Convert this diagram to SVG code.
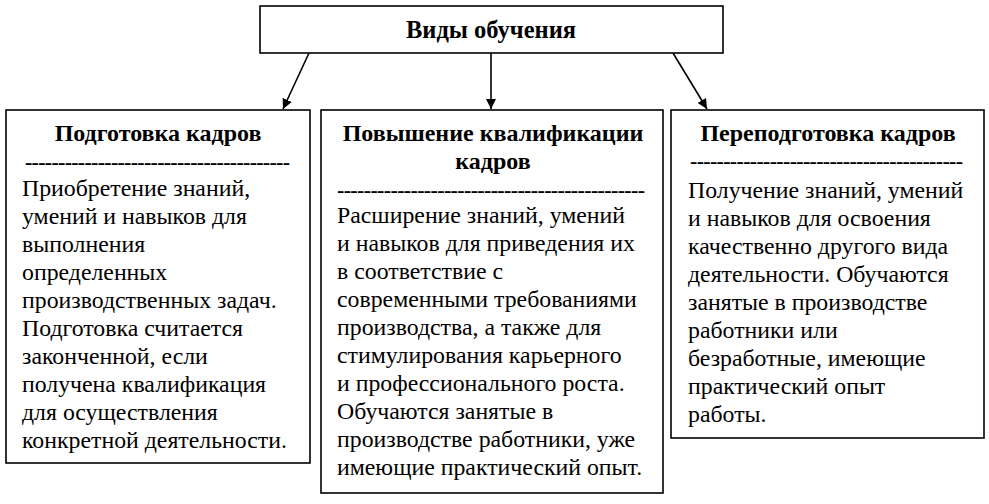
<svg xmlns="http://www.w3.org/2000/svg" width="989" height="504" viewBox="0 0 989 504">
<style>
.box{fill:#fff;stroke:#000;stroke-width:1.6}
text{font-family:'Liberation Serif','Times New Roman',serif;fill:#000}
.ttl{font-weight:bold;font-size:24.5px;text-anchor:middle}
.hd{font-weight:bold;font-size:24px;text-anchor:middle}
.dash{font-weight:bold;font-size:22px}
.bd{font-size:23.8px}
.con{stroke:#000;stroke-width:1.6;fill:none}
</style>
<defs>
<marker id="ah" viewBox="0 0 10 10" refX="10" refY="5" markerWidth="10" markerHeight="10" markerUnits="userSpaceOnUse" orient="auto">
<path d="M0,0 L10,5 L0,10 z" fill="#000"/>
</marker>
</defs>
<rect width="989" height="504" fill="#fff"/>
<g id="connectors">
<line class="con" x1="309" y1="53" x2="283" y2="109" marker-end="url(#ah)"/>
<line class="con" x1="491" y1="53" x2="491" y2="109" marker-end="url(#ah)"/>
<line class="con" x1="673" y1="53" x2="707" y2="109" marker-end="url(#ah)"/>
</g>
<g id="root">
<rect class="box" x="260" y="6" width="463" height="47"/>
<text class="ttl" x="491" y="38">Виды обучения</text>
</g>
<g id="podgotovka">
<rect class="box" x="6" y="110" width="304" height="353"/>
<text class="hd" x="158" y="141">Подготовка кадров</text>
<text class="dash" x="25" y="169" textLength="265" lengthAdjust="spacing">----------------------------------------</text>
<text class="bd">
<tspan x="22" y="196">Приобретение знаний,</tspan>
<tspan x="22" y="224">умений и навыков для</tspan>
<tspan x="22" y="252">выполнения</tspan>
<tspan x="22" y="280">определенных</tspan>
<tspan x="22" y="308">производственных задач.</tspan>
<tspan x="22" y="336">Подготовка считается</tspan>
<tspan x="22" y="364">законченной, если</tspan>
<tspan x="22" y="392">получена квалификация</tspan>
<tspan x="22" y="420">для осуществления</tspan>
<tspan x="22" y="448">конкретной деятельности.</tspan>
</text>
</g>
<g id="povyshenie">
<rect class="box" x="321" y="110" width="342" height="383"/>
<text class="hd" x="493" y="141">Повышение квалификации</text>
<text class="hd" x="493" y="169">кадров</text>
<text class="dash" x="337" y="197" textLength="308" lengthAdjust="spacing">----------------------------------------------</text>
<text class="bd">
<tspan x="337" y="223">Расширение знаний, умений</tspan>
<tspan x="337" y="251">и навыков для приведения их</tspan>
<tspan x="337" y="279">в соответствие с</tspan>
<tspan x="337" y="307">современными требованиями</tspan>
<tspan x="337" y="335">производства, а также для</tspan>
<tspan x="337" y="363">стимулирования карьерного</tspan>
<tspan x="337" y="391">и профессионального роста.</tspan>
<tspan x="337" y="419">Обучаются занятые в</tspan>
<tspan x="337" y="447">производстве работники, уже</tspan>
<tspan x="337" y="475">имеющие практический опыт.</tspan>
</text>
</g>
<g id="perepodgotovka">
<rect class="box" x="671" y="110" width="313" height="328"/>
<text class="hd" x="828" y="141">Переподготовка кадров</text>
<text class="dash" x="690" y="168" textLength="273" lengthAdjust="spacing">-----------------------------------------</text>
<text class="bd">
<tspan x="688" y="198">Получение знаний, умений</tspan>
<tspan x="688" y="226">и навыков для освоения</tspan>
<tspan x="688" y="254">качественно другого вида</tspan>
<tspan x="688" y="282">деятельности. Обучаются</tspan>
<tspan x="688" y="310">занятые в производстве</tspan>
<tspan x="688" y="338">работники или</tspan>
<tspan x="688" y="366">безработные, имеющие</tspan>
<tspan x="688" y="394">практический опыт</tspan>
<tspan x="688" y="422">работы.</tspan>
</text>
</g>
</svg>
